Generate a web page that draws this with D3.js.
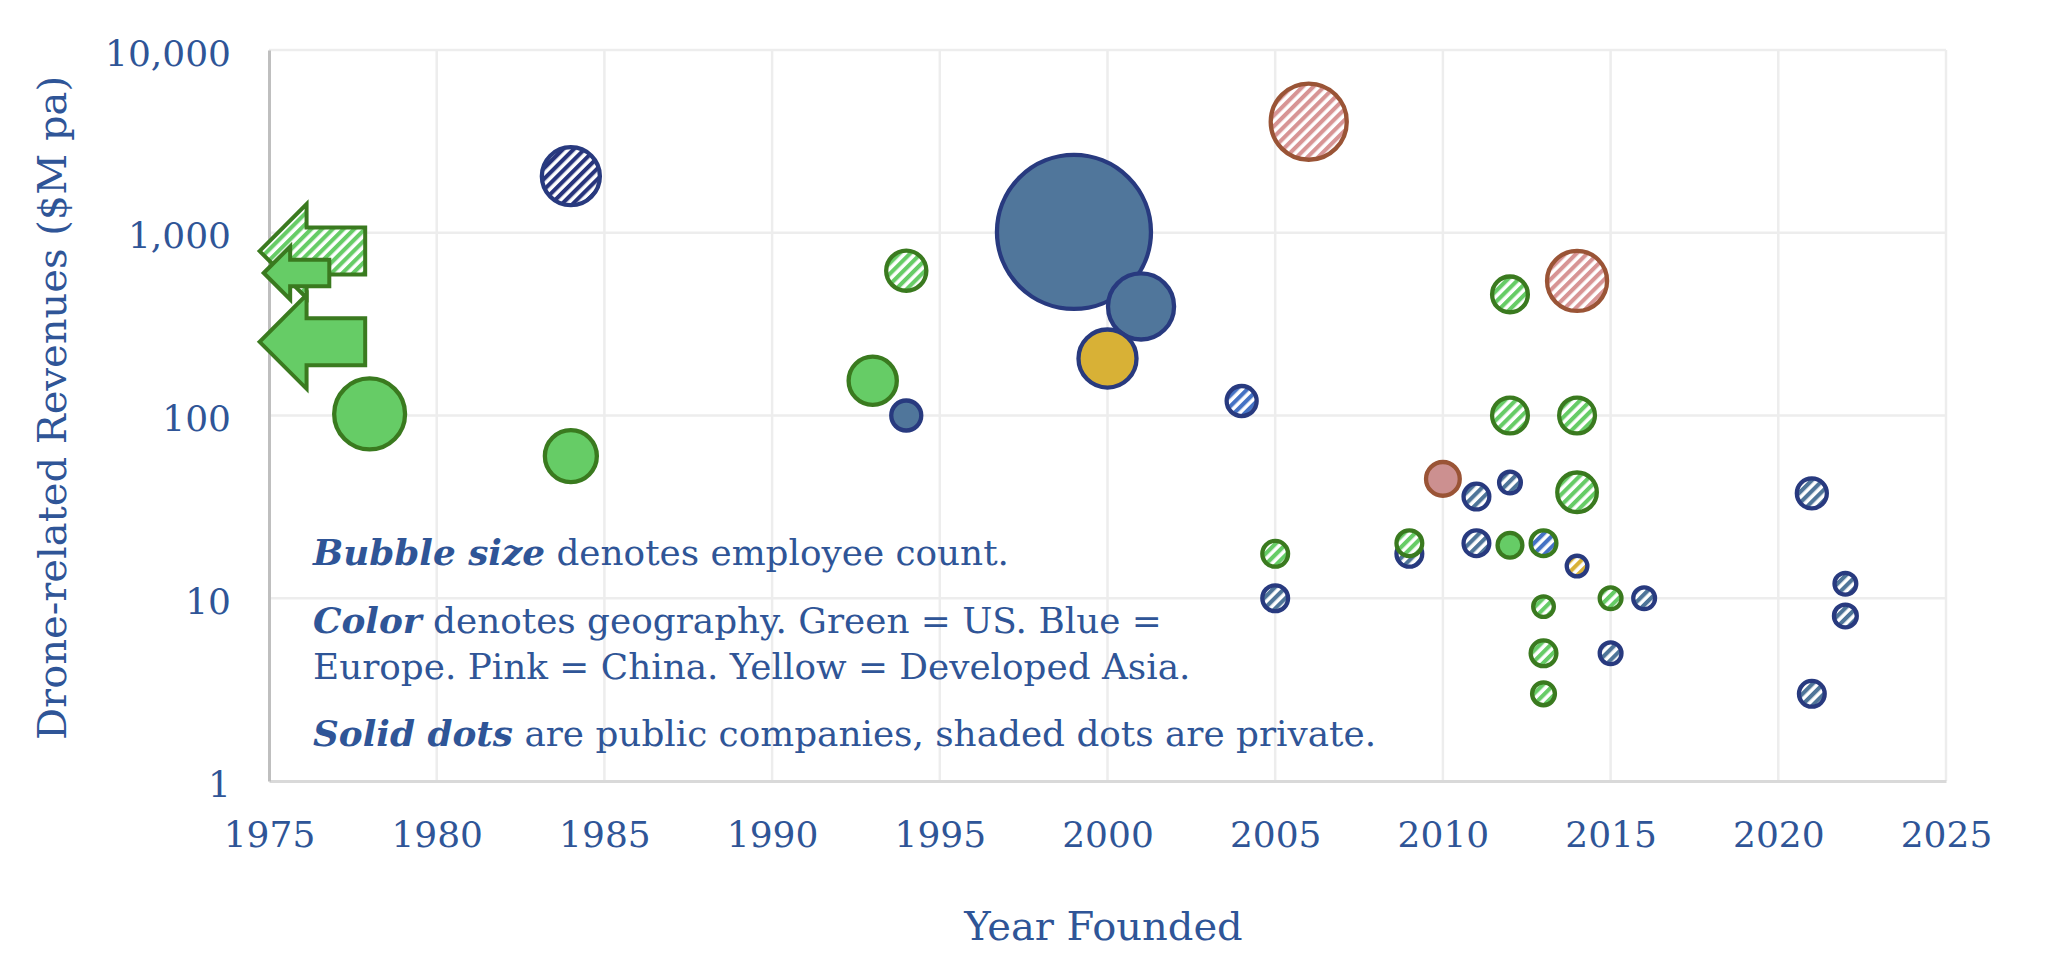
<!DOCTYPE html>
<html><head><meta charset="utf-8">
<script src="https://cdn.jsdelivr.net/npm/d3@7"></script>
<style>html,body{margin:0;background:#fff}svg{display:block}</style>
</head><body>
<svg id="chart" width="2069" height="979"></svg>
<script>
// ---------- data ----------
const years     = [1999, 2001, 2000, 1978, 1984, 1984, 1993, 1994, 1994, 2004, 2005, 2005, 2006, 2009, 2009, 2010, 2011, 2011, 2012, 2012, 2012, 2012, 2013, 2013, 2013, 2013, 2014, 2014, 2014, 2014, 2015, 2015, 2016, 2021, 2021, 2022, 2022];
const revenues  = [1010, 395, 205, 102, 2040, 60, 155, 620, 100, 120, 17.5, 10, 4050, 17.5, 20, 45, 36, 20, 460, 100, 43, 19.5, 20, 9, 5, 3, 545, 100, 38, 15, 10, 5, 10, 37.5, 3, 12, 8];
const employees = [50000, 9200, 7100, 10600, 7100, 5700, 4900, 3400, 1900, 1900, 1400, 1400, 12200, 1400, 1400, 2400, 1400, 1400, 2700, 2700, 1000, 1300, 1400, 900, 1400, 1100, 7600, 2700, 3300, 900, 1000, 1000, 1000, 1900, 1400, 1000, 1100];
const regions   = ["EU","EU","AS","US","EU","US","US","US","EU","EU","US","EU","CN","EU","US","CN","EU","EU","US","US","EU","US","US","US","US","US","CN","US","US","AS","US","EU","EU","EU","EU","EU","EU"];
const listed    = [1,1,1,1,0,1,1,0,1,0, 0,0,0,0,0,1,0,0,0,0, 0,1,0,0,0,0,0,0,0,0, 0,0,0,0,0,0,0];
const shades    = ["","","","","dark","","","","","bright", "","","","","","","","","","", "","","bright","","","","","","","", "","","","","","",""];

// companies founded before 1975 (shown as arrows)
const preRevenues  = [794, 602, 253];
const preEmployees = [18600, 5900, 18600];
const preRegions   = ["US","US","US"];
const preListed    = [0, 1, 1];

const xTicks = [1975, 1980, 1985, 1990, 1995, 2000, 2005, 2010, 2015, 2020, 2025];
const yTicks = [1, 10, 100, 1000, 10000];

const yTitle = "Drone-related Revenues ($M pa)";
const xTitle = "Year Founded";
const notes = [
  [["Bubble size", true], [" denotes employee count.", false]],
  [["Color", true], [" denotes geography. Green = US. Blue =", false]],
  [["Europe. Pink = China. Yellow = Developed Asia.", false]],
  [["Solid dots", true], [" are public companies, shaded dots are private.", false]]
];

// ---------- styles ----------
const TEXT = "#2F5597";
const FONT = "'DejaVu Serif', 'Liberation Serif', serif";
const solidFill = {US:"#66CC66", EU:"#50769B", AS:"#D8B136", CN:"#CC9090"};
const stripeFill = {US:"#66CC66", EU:"#4F7599", dark:"#27347C", bright:"#4472C4", AS:"#D8B136", CN:"#D79494"};
const edge = {US:"#3A7A1F", EU:"#283A7F", AS:"#283A7F", CN:"#9A5436"};

const svg = d3.select("#chart");
const L = 269, R = 1946, T = 50, B = 781;
const x = d3.scaleLinear().domain([1975, 2025]).range([L, R]);
const y = d3.scaleLog().domain([1, 10000]).range([B, T]);
const r = d3.scaleSqrt().domain([0, 50000]).range([0, 77]);

// patterns
const defs = svg.append("defs");
Object.entries(stripeFill).forEach(([k, c]) => {
  const p = defs.append("pattern").attr("id", "hatch-" + k)
    .attr("patternUnits", "userSpaceOnUse").attr("width", 7.6).attr("height", 7.6)
    .attr("patternTransform", "rotate(45)");
  p.append("rect").attr("width", 7.6).attr("height", 7.6).attr("fill", "#fff");
  p.append("rect").attr("width", 4.1).attr("height", 7.6).attr("fill", c);
});

// gridlines
const grid = svg.append("g");
grid.selectAll("line.v").data(xTicks.slice(1)).join("line")
  .attr("x1", d => x(d)).attr("x2", d => x(d)).attr("y1", T).attr("y2", B)
  .attr("stroke", "#EDEDED").attr("stroke-width", 2.5);
grid.selectAll("line.h").data(yTicks.slice(1)).join("line")
  .attr("y1", d => y(d)).attr("y2", d => y(d)).attr("x1", L).attr("x2", R)
  .attr("stroke", "#EDEDED").attr("stroke-width", 2.5);

// axes
const xAxis = svg.append("g").attr("transform", `translate(0,${B})`)
  .call(d3.axisBottom(x).tickValues(xTicks).tickFormat(d3.format("d")).tickSize(0));
xAxis.select(".domain").attr("stroke", "#D9D9D9").attr("stroke-width", 3);
xAxis.selectAll("text").attr("y", 66).attr("dy", null)
  .attr("fill", TEXT).style("font-family", FONT).style("font-size", "36px");

const yAxis = svg.append("g").attr("transform", `translate(${L},0)`)
  .call(d3.axisLeft(y).tickValues(yTicks).tickFormat(d3.format(",")).tickSize(0).tickPadding(38));
yAxis.select(".domain").attr("stroke", "#BFBFBF").attr("stroke-width", 3);
yAxis.selectAll("text").attr("dy", "0.42em")
  .attr("fill", TEXT).style("font-family", FONT).style("font-size", "36px");

// titles
svg.append("text").attr("x", (L + R) / 2 - 4).attr("y", 940).attr("text-anchor", "middle")
  .attr("fill", TEXT).style("font-family", FONT).style("font-size", "40px").text(xTitle);
svg.append("text").attr("transform", "translate(66,408) rotate(-90)").attr("text-anchor", "middle")
  .attr("fill", TEXT).style("font-family", FONT).style("font-size", "40px").text(yTitle);

// notes
const noteY = [565, 633, 679, 746];
notes.forEach((line, i) => {
  const t = svg.append("text").attr("x", 313).attr("y", noteY[i])
    .attr("fill", TEXT).style("font-family", FONT).style("font-size", "35.8px");
  line.forEach(([s, b]) => {
    t.append("tspan").text(s)
      .style("font-weight", b ? "bold" : "normal")
      .style("font-style", b ? "italic" : "normal");
  });
});

// arrows for pre-1975 companies
const pre = preRevenues.map((v, i) => ({v, emp: preEmployees[i], reg: preRegions[i], pub: preListed[i]}));
svg.append("g").selectAll("path").data(pre).join("path")
  .attr("d", d => {
    const s = r(d.emp), cy = y(d.v), tx = x(1975) - 0.2 * s;
    const hl = s, b = s * 0.5, len = s * 1.95 + 14;
    return d3.line()([[tx, cy], [tx + hl, cy - s], [tx + hl, cy - b], [tx + len, cy - b],
      [tx + len, cy + b], [tx + hl, cy + b], [tx + hl, cy + s]]) + "Z";
  })
  .attr("fill", d => d.pub ? solidFill[d.reg] : `url(#hatch-${d.reg})`)
  .attr("stroke", d => edge[d.reg]).attr("stroke-width", 4).attr("stroke-linejoin", "miter");

// bubbles
const pts = years.map((yr, i) => ({yr, v: revenues[i], emp: employees[i], reg: regions[i], pub: listed[i], shade: shades[i]}));
svg.append("g").selectAll("circle").data(pts).join("circle")
  .attr("cx", d => x(d.yr)).attr("cy", d => y(d.v)).attr("r", d => r(d.emp))
  .attr("fill", d => d.pub ? solidFill[d.reg] : `url(#hatch-${d.shade || d.reg})`)
  .attr("stroke", d => edge[d.reg]).attr("stroke-width", 4.3);
</script>
</body></html>
